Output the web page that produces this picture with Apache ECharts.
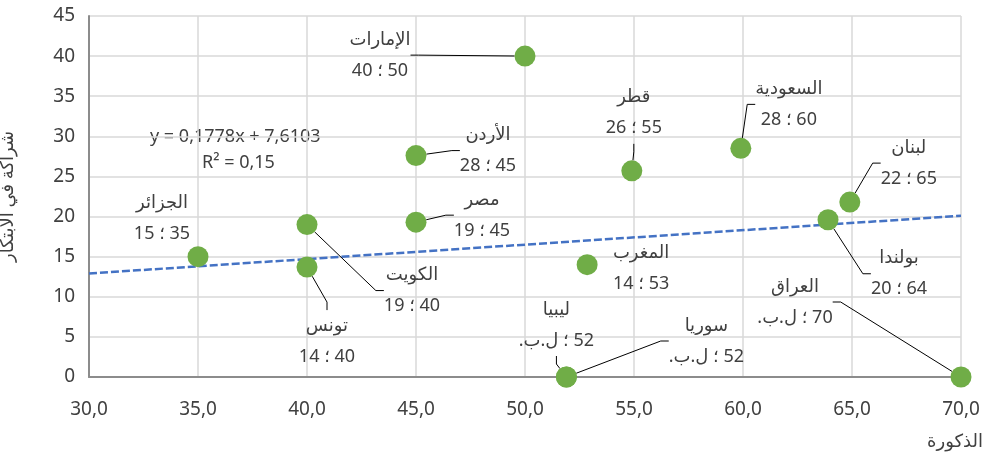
<!DOCTYPE html>
<html>
<head>
<meta charset="utf-8">
<script src="https://cdn.jsdelivr.net/npm/echarts@6/dist/echarts.min.js"></script>
<style>
  html, body { margin: 0; padding: 0; background: #fff; }
  #chart { width: 986px; height: 460px; }
</style>
</head>
<body>
<div id="chart"></div>
<script>
// البيانات: الذكورة (س) مقابل الشراكة في الابتكار (ص)
const countries = ['الجزائر', 'تونس', 'الكويت', 'الأردن', 'مصر', 'الإمارات', 'قطر',
  'المغرب', 'ليبيا', 'سوريا', 'السعودية', 'لبنان', 'بولندا', 'العراق'];
const xValues = [35, 40, 40, 45, 45, 50, 54.9, 52.85, 51.9, 51.9, 59.9, 64.9, 63.9, 70];
const yValues = [15, 13.7, 19, 27.6, 19.3, 40, 25.7, 14, 0, 0, 28.5, 21.8, 19.6, 0];
const xText = ['35', '40', '40', '45', '45', '50', '55', '53', '52', '52', '60', '65', '64', '70'];
const yText = ['15', '14', '19', '28', '19', '40', '26', '14', 'ل.ب.', 'ل.ب.', '28', '22', '20', 'ل.ب.'];
const hasLeader = [false, true, true, true, true, true, true, false, true, true, true, true, true, true];

// خط الاتجاه (مقروء من الرسم عند طرفي المحور)
const trendX = [30, 70];
const trendY = [12.9, 20.1];
const trendEquation = 'y = 0,1778x + 7,6103';
const trendR2 = 'R² = 0,15';

const xAxisName = 'الذكورة';
const yAxisName = 'شراكة في الابتكار';

// إزاحة كل تسمية عن نقطتها (بكسل)
const labelOffsets = [
  [-36, -38], [20, 74], [105, 66], [72, -5], [66, -7], [-145, -1], [2, -58],
  [54, 4], [-10, -52], [140, -36], [48, -44], [59, -39], [71, 54], [-166, -75]
];

const font = '"Noto Sans", "DejaVu Sans", sans-serif';
const fmt = (v) => v.toFixed(1).replace('.', ',');

const chart = echarts.init(document.getElementById('chart'), null, { renderer: 'canvas' });

chart.setOption({
  backgroundColor: '#ffffff',
  animation: false,
  textStyle: { fontFamily: font },
  grid: { left: 89, right: 25, top: 16, bottom: 83, containLabel: false, outerBoundsMode: 'none' },
  xAxis: {
    type: 'value',
    min: 30,
    max: 70,
    interval: 5,
    name: xAxisName,
    nameLocation: 'end',
    nameGap: 22,
    nameTextStyle: {
      color: '#404040', fontSize: 18, fontFamily: font,
      align: 'right', verticalAlign: 'top', padding: [56, 0, 0, 0]
    },
    axisLine: { lineStyle: { color: '#8c8c8c', width: 2 } },
    axisTick: { show: false },
    axisLabel: { color: '#404040', fontSize: 19, margin: 23, formatter: fmt, fontFamily: font },
    splitLine: { lineStyle: { color: '#d9d9d9', width: 1.5 } }
  },
  yAxis: {
    type: 'value',
    min: 0,
    max: 45,
    interval: 5,
    name: yAxisName,
    nameLocation: 'middle',
    nameGap: 72,
    nameTextStyle: { color: '#404040', fontSize: 18, fontFamily: font },
    axisLine: { show: true, lineStyle: { color: '#8c8c8c', width: 2 } },
    axisTick: { show: false },
    axisLabel: { color: '#404040', fontSize: 19, margin: 14, fontFamily: font },
    splitLine: { lineStyle: { color: '#d9d9d9', width: 1.5 } }
  },
  graphic: [
    {
      type: 'text', left: 150, top: 128,
      style: { text: trendEquation, fill: '#404040', font: '18px ' + font }
    },
    {
      type: 'text', left: 202, top: 154,
      style: { text: trendR2, fill: '#404040', font: '18px ' + font }
    }
  ],
  series: [
    {
      type: 'line',
      data: trendX.map((x, i) => [x, trendY[i]]),
      showSymbol: false,
      symbol: 'none',
      lineStyle: { color: '#4472c4', width: 2.5, type: [8, 3] },
      z: 1,
      silent: true
    },
    {
      type: 'scatter',
      symbolSize: 21,
      itemStyle: { color: '#70ad47', opacity: 1 },
      z: 3,
      data: xValues.map((x, i) => ({
        value: [x, yValues[i]],
        labelLine: { show: hasLeader[i] }
      })),
      label: {
        show: true,
        position: 'inside',
        align: 'center',
        verticalAlign: 'middle',
        color: '#404040',
        fontSize: 18,
        lineHeight: 31,
        fontFamily: font,
        formatter: (p) => countries[p.dataIndex] + '\n\u202B' +
          xText[p.dataIndex] + ' \u061B ' + yText[p.dataIndex] + '\u202C'
      },
      labelLine: {
        show: true,
        length2: 8,
        lineStyle: { color: '#000000', width: 1 }
      },
      labelLayout: (p) => ({ dx: labelOffsets[p.dataIndex][0], dy: labelOffsets[p.dataIndex][1] })
    }
  ]
});
</script>
</body>
</html>
